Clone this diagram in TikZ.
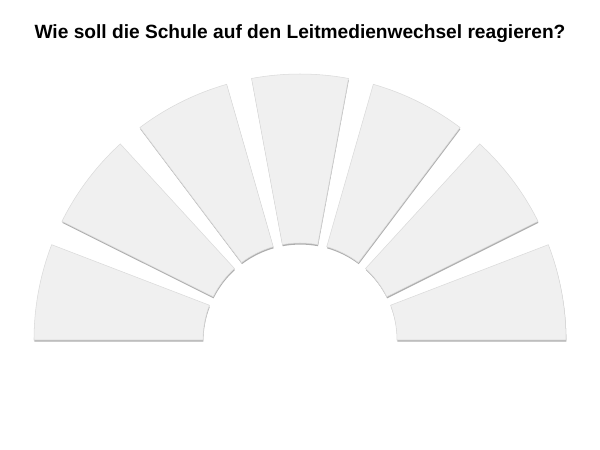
\documentclass[tikz,border=0pt]{standalone}
\usepackage{fontspec}
\setmainfont{Liberation Sans}
\usetikzlibrary{shadows}
\definecolor{segfill}{HTML}{F0F0F0}
\definecolor{segedge}{HTML}{DADADA}
\tikzset{
  segment/.style={fill=segfill, draw=segedge, line width=0.3pt,
    drop shadow={shadow xshift=0.2pt, shadow yshift=-0.9pt, fill=black!45, opacity=0.7}},
  heading/.style={font=\bfseries\fontsize{10.9}{13}\selectfont}
}
\begin{document}
\begin{tikzpicture}[x=0.02cm,y=0.02cm]
\useasboundingbox (0,0) rectangle (600,450);
%The question on top
\node[heading] (question) at (300,416) {Wie soll die Schule auf den Leitmedienwechsel reagieren?};
%Centre of the half ring
\coordinate (centre) at (300,110);
%Seven segments from left to right
\foreach \i in {0,...,6} {
  \pgfmathsetmacro{\segstart}{180-\i*26.5}
  \pgfmathsetmacro{\segstop}{\segstart-21}
  \draw[segment] ([shift={(\segstart:97)}]centre)
    arc[start angle=\segstart, end angle=\segstop, radius=97]
    -- ([shift={(\segstop:266)}]centre)
    arc[start angle=\segstop, end angle=\segstart, radius=266] -- cycle;
}
\end{tikzpicture}
\end{document}
